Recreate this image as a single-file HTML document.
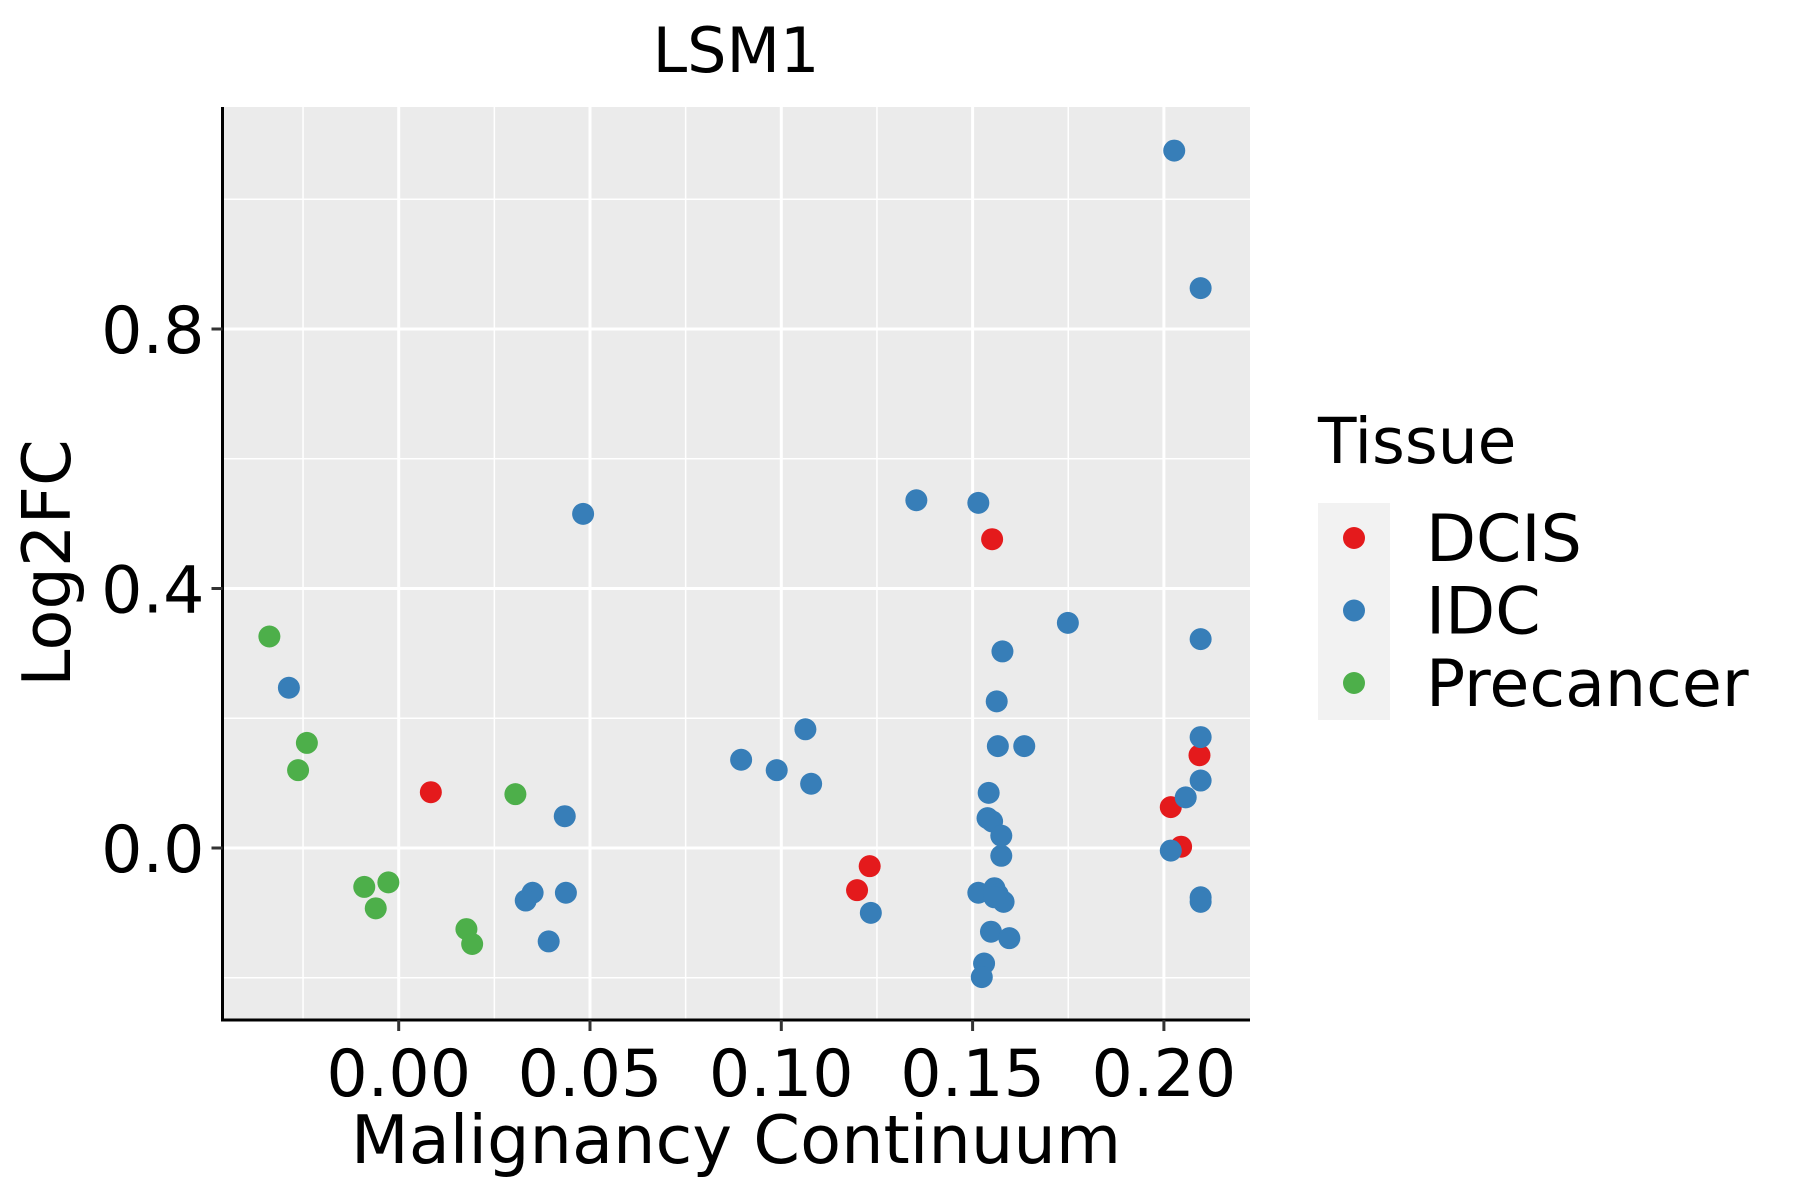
<!DOCTYPE html>
<html><head><meta charset="utf-8"><style>
html,body{margin:0;padding:0;background:#fff;}
svg{display:block;font-family:"DejaVu Sans","Liberation Sans",sans-serif;}
</style></head><body>
<svg id="chart" width="1800" height="1200" viewBox="0 0 1800 1200">
<rect x="222.5" y="107" width="1027.5" height="913" fill="#EBEBEB"/>
<g id="grid"></g>
<g id="points"></g>
<g id="axes"></g>
<text x="736" y="72" font-size="62" text-anchor="middle">LSM1</text>
<text x="736" y="1163" font-size="67" text-anchor="middle">Malignancy Continuum</text>
<text transform="translate(70,563) rotate(-90)" font-size="67" text-anchor="middle">Log2FC</text>
<g id="legend">
<text x="1318" y="463" font-size="63">Tissue</text>
<rect x="1318" y="503" width="72" height="217" fill="#F2F2F2"/>
</g>
</svg>
<script>
const groups = ["DCIS","IDC","Precancer"];
const colors = ["#E41A1C","#377EB8","#4DAF4A"];
const xTicks = [0,0.05,0.10,0.15,0.20];
const xTickLabels = ["0.00","0.05","0.10","0.15","0.20"];
const yTicks = [0,0.4,0.8];
const yTickLabels = ["0.0","0.4","0.8"];
const xMinor = [-0.025,0.025,0.075,0.125,0.175];
const yMinor = [-0.2,0.2,0.6,1.0];
const dcisX = [0.0084,0.1198,0.1231,0.1551,0.2018,0.2045,0.2093];
const dcisY = [0.086,-0.065,-0.028,0.476,0.063,0.002,0.143];
const idcX = [-0.0287,0.0482,0.0434,0.0350,0.0332,0.0437,0.0392,0.0895,0.0988,0.1063,0.1078,0.1234,0.1353,0.1515,0.1578,0.1563,0.1566,0.1635,0.1542,0.1539,0.1551,0.1575,0.1575,0.1515,0.1557,0.1566,0.1581,0.1557,0.1548,0.1596,0.1530,0.1524,0.1749,0.2027,0.2096,0.2096,0.2096,0.2096,0.2057,0.2018,0.2096,0.2096];
const idcY = [0.247,0.515,0.049,-0.069,-0.081,-0.069,-0.144,0.136,0.120,0.183,0.099,-0.100,0.536,0.532,0.303,0.226,0.157,0.157,0.085,0.046,0.041,0.019,-0.012,-0.069,-0.062,-0.072,-0.083,-0.076,-0.129,-0.139,-0.178,-0.199,0.347,1.075,0.863,0.322,0.171,0.104,0.078,-0.004,-0.076,-0.083];
const preX = [-0.0338,-0.0240,-0.0263,-0.0090,-0.0027,-0.0060,0.0177,0.0192,0.0305];
const preY = [0.326,0.162,0.120,-0.060,-0.053,-0.093,-0.125,-0.148,0.083];

const NS="http://www.w3.org/2000/svg";
const L=222.5,R=1250,T=107,B=1020;
function sx(v){return 398.7+v*3826;}
function sy(v){return 848-v*648.75;}
function mk(tag,attrs,parent){const e=document.createElementNS(NS,tag);for(const k in attrs)e.setAttribute(k,attrs[k]);parent.appendChild(e);return e;}
const grid=document.getElementById('grid');
xMinor.forEach(v=>{const e=mk('line',{x1:sx(v),x2:sx(v),y1:T,y2:B,stroke:'#fff','stroke-width':1.5},grid);

});
yMinor.forEach(v=>{const e=mk('line',{x1:L,x2:R,y1:sy(v),y2:sy(v),stroke:'#fff','stroke-width':1.5},grid);

});
xTicks.forEach(v=>{const e=mk('line',{x1:sx(v),x2:sx(v),y1:T,y2:B,stroke:'#fff','stroke-width':3},grid);

});
yTicks.forEach(v=>{const e=mk('line',{x1:L,x2:R,y1:sy(v),y2:sy(v),stroke:'#fff','stroke-width':3},grid);

});
const pts=document.getElementById('points');
[[dcisX,dcisY,0],[idcX,idcY,1],[preX,preY,2]].forEach(([xs,ys,g])=>{
 xs.forEach((x,i)=>{const c=mk('circle',{cx:sx(x),cy:sy(ys[i]),r:11,fill:colors[g]},pts);
 
 });
});
const ax=document.getElementById('axes');
const xl=mk('line',{x1:L-1.5,x2:R,y1:B,y2:B,stroke:'#000','stroke-width':3},ax);


const yl=mk('line',{x1:L,x2:L,y1:T,y2:B+1.5,stroke:'#000','stroke-width':3},ax);


xTicks.forEach((v,i)=>{
 const t=mk('line',{x1:sx(v),x2:sx(v),y1:B,y2:B+11,stroke:'#333','stroke-width':3},ax);
 
 
 const l=mk('text',{x:sx(v),y:1096,'font-size':65,'text-anchor':'middle'},ax);
 l.textContent=xTickLabels[i];
 
 
});
yTicks.forEach((v,i)=>{
 const t=mk('line',{x1:L-11,x2:L,y1:sy(v),y2:sy(v),stroke:'#333','stroke-width':3},ax);
 
 
 const l=mk('text',{x:L-18,y:sy(v)+24,'font-size':65,'text-anchor':'end'},ax);
 l.textContent=yTickLabels[i];
 
 
});
const lg=document.getElementById('legend');
groups.forEach((g,i)=>{
 const cy=538+i*72.5;
 const c=mk('circle',{cx:1354,cy:cy,r:11,fill:colors[i]},lg);
 
 
 const t=mk('text',{x:1426,y:cy+23,'font-size':65},lg);
 t.textContent=g;
 
 
});
</script>
</body></html>
